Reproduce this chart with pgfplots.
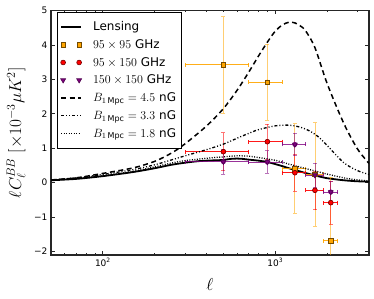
\documentclass[border=0pt]{standalone}
\usepackage{fontspec}
\setmainfont{DejaVu Sans}
\usepackage{pgfplots}
\pgfplotsset{compat=1.18}
\definecolor{myorange}{HTML}{FFA500}
\definecolor{myred}{HTML}{FF0000}
\definecolor{mypurple}{HTML}{800080}
\definecolor{axgray}{HTML}{262626}

\pgfplotsset{
  linelegend/.style={legend image code/.code={\draw[##1] (0pt,0pt) -- (20pt,0pt);}},
  marklegend/.style={legend image code/.code={\draw[##1] plot coordinates {(2pt,0pt) (18pt,0pt)};}},
}

\pgfplotstableread{
l v e
500 3.42 1.40
900 2.92 1.10
1300 0.41 1.30
1700 0.24 1.50
2100 -1.69 1.85
}\dataA
\pgfplotstableread{
l v e
500 0.90 0.55
900 1.19 0.50
1300 0.29 0.53
1700 -0.22 0.56
2100 -0.58 0.62
}\dataB
\pgfplotstableread{
l v e
500 0.61 0.37
900 0.60 0.33
1300 1.11 0.33
1700 0.22 0.35
2100 -0.27 0.32
}\dataC

\begin{document}
\begin{tikzpicture}
\begin{axis}[
  name=ax,
  scale only axis, width=318pt, height=244.5pt,
  xmode=log, xmin=50, xmax=3500, ymin=-2.1, ymax=5,
  xtick={100,1000}, xticklabels={10\textsuperscript{2},10\textsuperscript{3}},
  minor xtick={50,60,70,80,90,200,300,400,500,600,700,800,900,2000,3000},
  ytick={-2,-1,0,1,2,3,4,5}, yticklabels={−2,−1,0,1,2,3,4,5},
  tick align=inside, major tick length=4pt, minor tick length=2pt,
  every tick/.style={axgray, line width=0.8pt},
  axis line style={axgray, line width=1.6pt},
  ticklabel style={font=\fontsize{9}{10}\selectfont},
  xlabel={$\ell$},
  ylabel={$\ell C_\ell^{BB}\;[\times 10^{-3}\mu K^2]$},
  label style={font=\fontsize{17}{18}\selectfont},
  xlabel style={at={(axis description cs:0.5,-0.12)}, anchor=center},
  ylabel style={at={(axis description cs:-0.11,0.5)}, anchor=center},
  legend cell align=left,
  legend style={at={(axis description cs:0.019,0.994)}, anchor=north west,
    draw=black, fill=white,
    font=\fontsize{12}{14}\selectfont, inner xsep=3pt, inner ysep=7.5pt,
    row sep=3.3pt,
    /tikz/every odd column/.append style={column sep=9pt}},
  linelegend,
  error bars/error mark options={rotate=90, mark size=2pt, line width=0.8pt},
]
% Lensing
\addplot[black, line width=1.8pt, smooth] coordinates {
(50,0.07) (70,0.11) (100,0.19) (150,0.31) (200,0.42) (250,0.52) (300,0.58)
(350,0.62) (400,0.64) (450,0.65) (500,0.66) (550,0.69) (600,0.70) (650,0.69)
(700,0.67) (800,0.64) (900,0.60) (1000,0.54) (1100,0.48) (1200,0.42)
(1300,0.37) (1500,0.28) (1700,0.21) (2000,0.13) (2500,0.07) (3000,0.04) (3500,0.03)};
\addlegendentry{Lensing}

% 95x95 error bars
\addplot[forget plot, myorange, opacity=0.55, line width=0.9pt, only marks, mark=none,
  error bars/.cd, y dir=both, y explicit, error bar style={line width=0.9pt}]
  table[x=l, y=v, y error=e] {\dataA};
\addplot[forget plot, myorange, opacity=0.9, line width=0.9pt, only marks, mark=none,
  error bars/.cd, x dir=both, x explicit, error bar style={line width=0.9pt}]
  coordinates {(500,3.42) +- (200,0) (900,2.92) +- (200,0) (1300,0.41) +- (200,0) (1700,0.24) +- (200,0) (2100,-1.69) +- (200,0)};
% 95x150
\addplot[forget plot, myred, opacity=0.55, line width=0.9pt, only marks, mark=none,
  error bars/.cd, y dir=both, y explicit, error bar style={line width=0.9pt}]
  table[x=l, y=v, y error=e] {\dataB};
\addplot[forget plot, myred, opacity=0.9, line width=0.9pt, only marks, mark=none,
  error bars/.cd, x dir=both, x explicit, error bar style={line width=0.9pt}]
  coordinates {(500,0.90) +- (200,0) (900,1.19) +- (200,0) (1300,0.29) +- (200,0) (1700,-0.22) +- (200,0) (2100,-0.58) +- (200,0)};
% 150x150
\addplot[forget plot, mypurple, opacity=0.55, line width=0.9pt, only marks, mark=none,
  error bars/.cd, y dir=both, y explicit, error bar style={line width=0.9pt}]
  table[x=l, y=v, y error=e] {\dataC};
\addplot[forget plot, mypurple, opacity=0.8, line width=0.9pt, only marks, mark=none,
  error bars/.cd, x dir=both, x explicit, error bar style={line width=0.9pt}]
  coordinates {(500,0.61) +- (200,0) (900,0.60) +- (200,0) (1300,1.11) +- (200,0) (1700,0.22) +- (200,0) (2100,-0.27) +- (200,0)};

% markers
\addplot[only marks, mark=square*, mark size=2.3pt, marklegend,
  mark options={fill=myorange, draw=black!55!myorange, line width=0.6pt}]
  table[x=l, y=v] {\dataA};
\addlegendentry{$95\times95$ GHz}
\addplot[only marks, mark=*, mark size=2.4pt, marklegend,
  mark options={fill=myred, draw=black!55!myred, line width=0.6pt}]
  table[x=l, y=v] {\dataB};
\addlegendentry{$95\times150$ GHz}
\addplot[only marks, mark=triangle*, mark size=2.8pt, marklegend,
  mark options={rotate=180, fill=mypurple, draw=black!40!mypurple, line width=0.6pt}]
  table[x=l, y=v] {\dataC};
\addlegendentry{$150\times150$ GHz}

% B = 4.5 nG
\addplot[black, line width=1.5pt, dash pattern=on 5pt off 3.5pt, smooth] coordinates {
(50,0.08) (70,0.14) (100,0.27) (150,0.43) (200,0.62) (250,0.86) (300,1.13)
(400,1.65) (500,2.15) (600,2.68) (700,3.2) (800,3.68) (900,4.08) (1000,4.4)
(1100,4.58) (1200,4.66) (1300,4.64) (1400,4.55) (1500,4.41) (1700,3.92)
(2000,2.88) (2500,1.72) (3000,0.98) (3500,0.56)};
\addlegendentry{$B_{1\,\mathrm{Mpc}}=4.5$ nG}
% B = 3.3 nG
\addplot[black, line width=1.3pt, dash pattern=on 3pt off 2pt on 1pt off 2pt on 1pt off 2pt, smooth] coordinates {
(50,0.08) (70,0.14) (100,0.24) (150,0.38) (200,0.52) (250,0.66) (300,0.78)
(400,0.96) (500,1.12) (600,1.29) (700,1.43) (800,1.54) (1000,1.65) (1200,1.67)
(1400,1.61) (1600,1.49) (1800,1.31) (2000,1.08) (2500,0.58) (3000,0.35) (3500,0.24)};
\addlegendentry{$B_{1\,\mathrm{Mpc}}=3.3$ nG}
% B = 1.8 nG
\addplot[black, line width=1.3pt, dash pattern=on 1pt off 1.5pt, smooth] coordinates {
(50,0.08) (70,0.12) (100,0.2) (150,0.33) (200,0.46) (250,0.57) (300,0.64)
(400,0.71) (500,0.75) (600,0.78) (700,0.77) (800,0.73) (1000,0.65) (1200,0.54)
(1500,0.41) (1700,0.34) (2000,0.25) (2500,0.14) (3000,0.08) (3500,0.05)};
\addlegendentry{$B_{1\,\mathrm{Mpc}}=1.8$ nG}
\end{axis}
\pgfresetboundingbox
\path[use as bounding box] ([xshift=-51pt,yshift=-44pt]ax.south west) rectangle ([xshift=5pt,yshift=10.5pt]ax.north east);
\end{tikzpicture}
\end{document}
